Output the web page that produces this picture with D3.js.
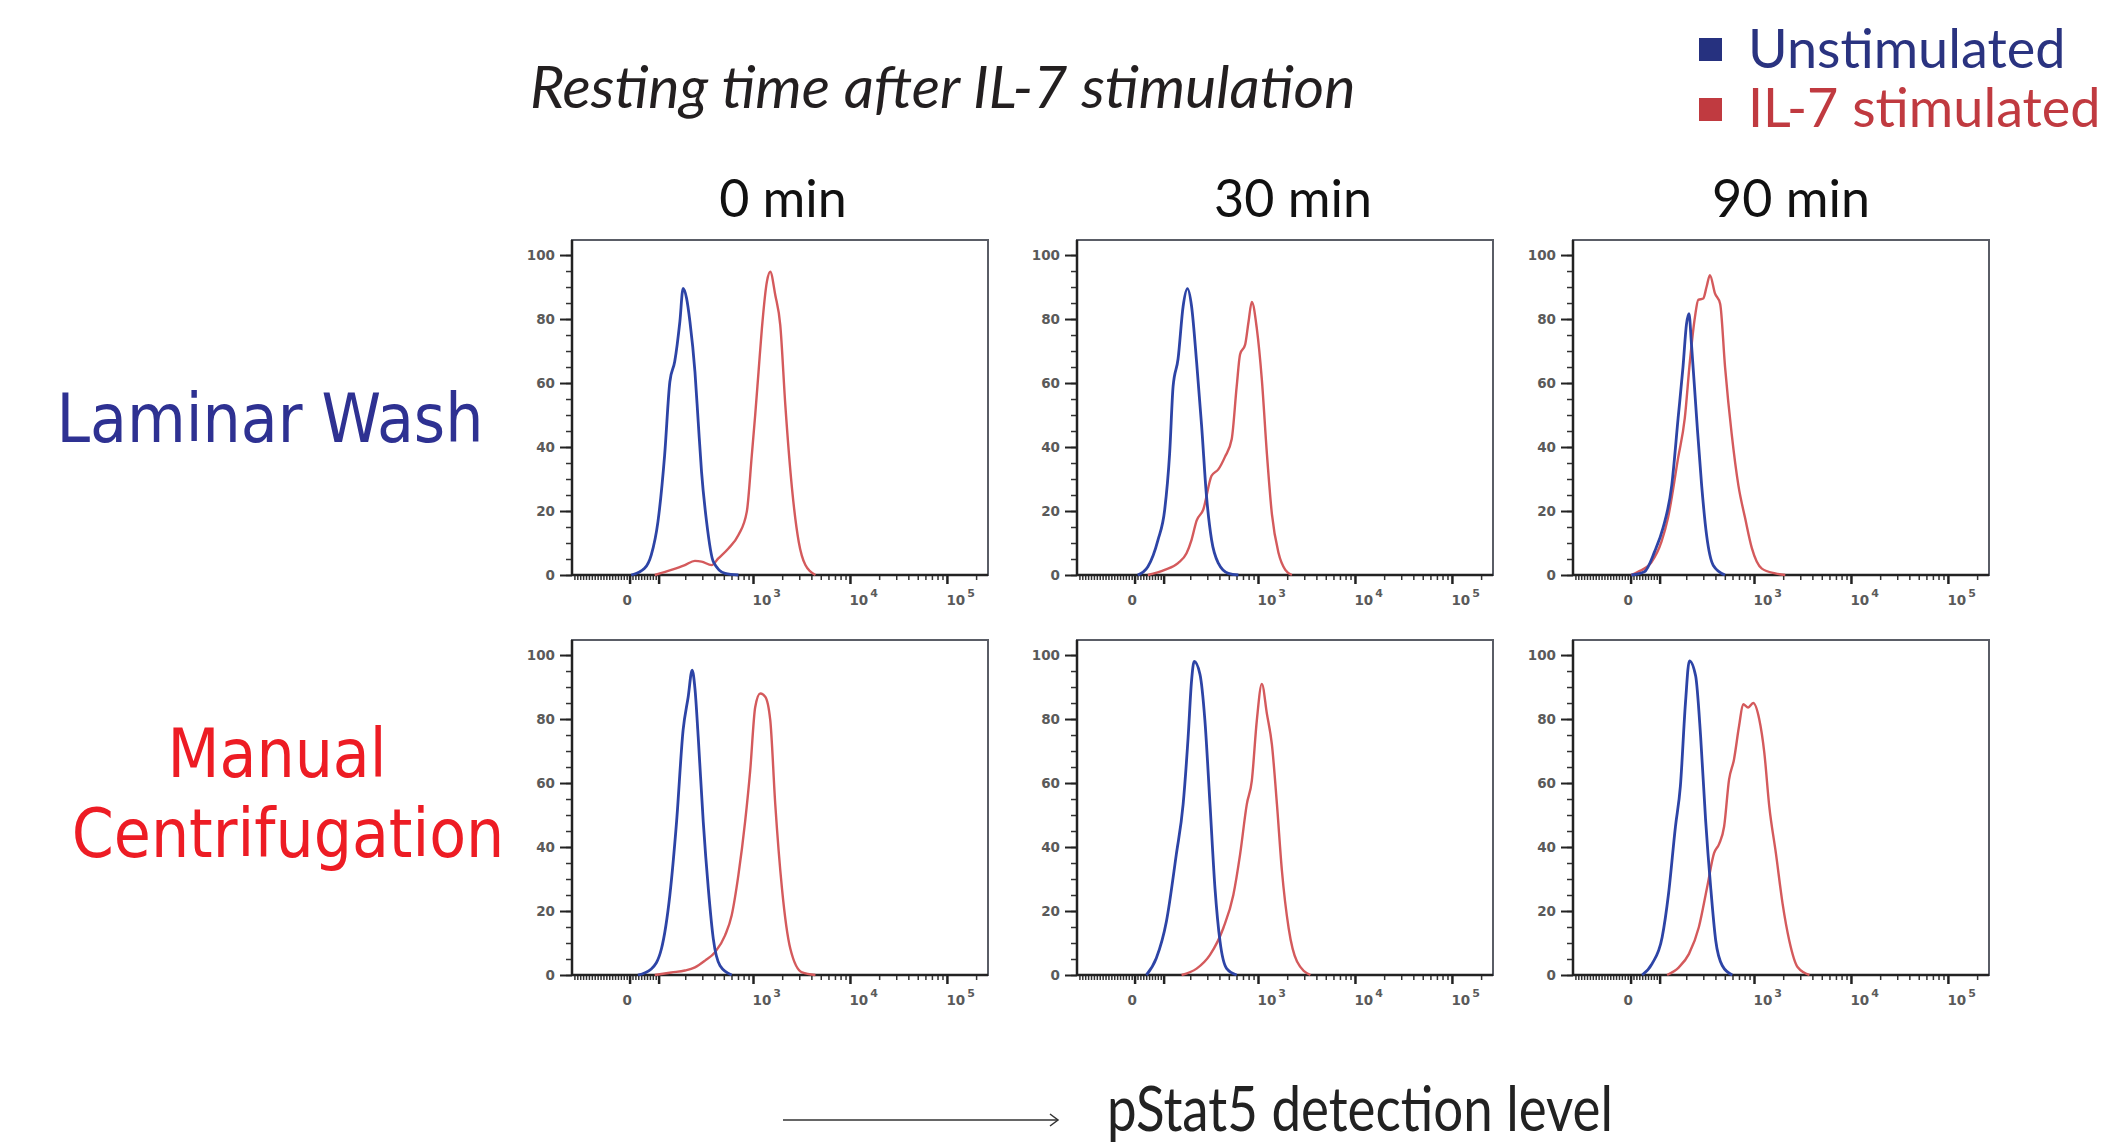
<!DOCTYPE html>
<html>
<head>
<meta charset="utf-8">
<script src="https://cdn.jsdelivr.net/npm/d3@7"></script>
<style>
body { margin: 0; background: #fff; }
</style>
</head>
<body>
<svg id="chart"></svg>
<script>
//Labels
var methods = ["Laminar Wash", "Manual Centrifugation"]
var times = ["0 min", "30 min", "90 min"]
var seriesNames = ["Unstimulated", "IL-7 stimulated"]
var chartTitle = "Resting time after IL-7 stimulation"
var axisTitle = "pStat5 detection level"
var yTicks = [0, 20, 40, 60, 80, 100]
var xMajor = [0, 100, 1000, 10000, 100000]
var xLabels = [{v: 0, base: "0", exp: ""}, {v: 1000, base: "10", exp: "3"}, {v: 10000, base: "10", exp: "4"}, {v: 100000, base: "10", exp: "5"}]

//Histograms: [pStat5 intensity, % of max]
var lw0U = [[4,0],[50,2.1],[73,6.3],[96,16.7],[119,37.5],[137,60.4],[154,66.7],[174,79.2],[188,89.6],[204,86.5],[221,79.2],[249,63.5],[269,47.9],[291,32.3],[328,16.7],[385,4.2],[509,0.5],[699,0]]
var lw0S = [[85,0],[142,1.6],[196,3.1],[249,4.4],[291,4.2],[370,3.1],[434,5.2],[551,8.3],[699,12.5],[853,19.8],[961,37.5],[1041,50],[1127,63.5],[1220,77],[1375,91.7],[1488,94.8],[1677,87.5],[1889,78],[2130,53],[2496,27],[2926,10.4],[3430,3.1],[4355,0]]
var lw30U = [[9,0],[44,2.6],[79,11],[102,20.4],[119,38],[131,59],[148,67.5],[167,84],[185,89.5],[204,84],[230,66.5],[259,46.6],[291,24.6],[328,11],[385,3.7],[489,0.5],[620,0]]
var lw30S = [[44,0],[102,1.6],[148,3.7],[181,6.8],[204,11],[230,17],[269,20.4],[328,31],[385,33],[452,37],[529,42.4],[596,59],[646,69],[728,72],[788,79],[853,85.3],[961,77],[1083,61],[1220,38],[1375,19],[1612,6.8],[1890,1.6],[2209,0]]
var lw90U = [[1,0],[46,1],[81,7.3],[110,14.7],[140,28],[163,49],[183,65],[199,78.5],[211,81.7],[224,72],[253,49],[285,28],[320,12.6],[376,3],[497,0]]
var lw90S = [[0,0],[24,1],[70,4],[105,10.5],[127,17.8],[163,36.6],[191,49],[216,67],[243,80.6],[263,86],[296,86.4],[320,90],[347,93.7],[391,88],[442,84.8],[497,65],[582,44],[682,28],[800,17.8],[939,8.4],[1191,2],[1637,0.5],[2077,0]]
var mc0U = [[27,0],[73,1.9],[108,8.2],[137,25],[161,48],[188,76.6],[212,86.9],[233,95.3],[249,89.5],[269,74.4],[303,48],[342,27],[385,11.3],[452,2.9],[596,0]]
var mc0S = [[85,0],[142,0.8],[196,1.4],[249,2.4],[316,4.5],[401,7.1],[509,12.4],[596,18.7],[699,31.3],[820,48],[924,63.8],[1041,83.7],[1172,88],[1321,87],[1488,79.7],[1677,53.3],[1967,27],[2399,8.2],[3168,0.8],[4355,0]]
var mc30U = [[39,0],[73,5.2],[108,16.8],[142,37.7],[167,53.4],[188,74.3],[204,92],[217,98],[249,94],[280,79.6],[316,53.4],[356,27],[401,10.5],[470,2],[596,0]]
var mc30S = [[161,0],[230,2],[316,6.3],[434,14.7],[550,25],[646,37.7],[758,53.4],[853,60.7],[961,79.6],[1083,91],[1220,81.7],[1375,72],[1549,53.4],[1745,32.5],[2045,14.7],[2496,4.2],[3430,0]]
var mc90U = [[38,0],[72,3.5],[107,11.8],[129,25.4],[153,46.4],[172,59],[194,85],[213,98.2],[247,93.5],[278,74.7],[313,48.5],[353,27.5],[398,10.8],[466,2.9],[591,0]]
var mc90S = [[124,0],[166,2.4],[211,6.6],[267,15],[325,27.5],[382,38],[432,41],[486,46.4],[546,61],[614,67.3],[693,77.8],[764,84.6],[860,83.6],[969,85],[1118,80],[1262,69.5],[1420,52.7],[1663,38],[1948,22.3],[2282,10.8],[2793,2.4],[3685,0]]

var unstim = [[lw0U, lw30U, lw90U], [mc0U, mc30U, mc90U]]
var stim = [[lw0S, lw30S, lw90S], [mc0S, mc30S, mc90S]]

//Size and svg
var width = 2117
var height = 1146
var svg = d3.select("#chart")
	.attr("width", width)
	.attr("height", height)

var blue = "#2d44a6"
var red = "#d45a5c"
var PW = 416, PH = 335
var colX = [572, 1077, 1573]
var rowY = [240, 640]
var headX = [783, 1293, 1791]

//logicle-like axis: linear near zero, log above
var L = 145
function logicle(v) {
	return v >= L ? Math.log10(v) : Math.log10(L) + (v - L) / (L * Math.LN10)
}
var x = d3.scaleLinear().domain([logicle(-200), logicle(262144)]).range([0, PW])
var px = function(v) { return x(logicle(v)) }
var y = d3.scaleLinear().domain([0, 104.7]).range([PH, 0])

var line = d3.line()
	.x(d => px(d[0]))
	.y(d => y(d[1]))
	.curve(d3.curveMonotoneX)

//minor ticks on the x axis
var xMinor = d3.range(-190, 100, 10).filter(v => v != 0)
;[100, 1000, 10000].forEach(function(dec) {
	for (var k = 2; k <= 9; k++) xMinor.push(k * dec)
})
xMinor.push(200000)

//Title and headers
svg.append("text")
	.attr("x", 530).attr("y", 108)
	.style("font-family", "Lato").style("font-style", "italic")
	.style("font-size", "59px").attr("fill", "#231f20")
	.text(chartTitle)

svg.selectAll(".colhead")
	.data(times)
	.enter()
	.append("text")
	.attr("x", (d, i) => headX[i])
	.attr("y", 217)
	.attr("text-anchor", "middle")
	.style("font-family", "Lato").style("font-size", "52px")
	.attr("fill", "#111")
	.text(d => d)

//Legend
var legend = svg.append("g")
legend.selectAll("rect")
	.data(seriesNames)
	.enter()
	.append("rect")
	.attr("x", 1699).attr("y", (d, i) => 38 + i * 60)
	.attr("width", 23).attr("height", 23)
	.attr("fill", (d, i) => i == 0 ? "#26317f" : "#c03a40")
legend.selectAll("text")
	.data(seriesNames)
	.enter()
	.append("text")
	.attr("x", 1748).attr("y", (d, i) => 68 + i * 59)
	.style("font-family", "Lato").style("font-size", "54px")
	.attr("fill", (d, i) => i == 0 ? "#2a3380" : "#c03a40")
	.text(d => d)

//Row labels
var rowFont = function(s) {
	s.attr("text-anchor", "middle")
		.style("font-family", "DejaVu Sans Condensed").style("font-size", "67px")
}
svg.append("text")
	.attr("x", 270).attr("y", 442)
	.call(rowFont)
	.attr("fill", "#2e3192")
	.text(methods[0])
var mc = methods[1].split(" ")
svg.append("text")
	.attr("x", 277).attr("y", 777)
	.call(rowFont)
	.attr("fill", "#ed1c24")
	.text(mc[0])
svg.append("text")
	.attr("x", 288).attr("y", 857)
	.call(rowFont)
	.attr("fill", "#ed1c24")
	.text(mc[1])

//Panels
methods.forEach(function(m, r) {
	times.forEach(function(t, c) {
		var g = svg.append("g")
			.attr("transform", "translate(" + colX[c] + "," + rowY[r] + ")")

		g.append("rect")
			.attr("width", PW).attr("height", PH)
			.attr("fill", "none").attr("stroke", "#5a5d66").attr("stroke-width", 2)

		//y axis
		g.append("g")
			.call(d3.axisLeft(y).tickValues(d3.range(0, 101, 5)).tickSize(6).tickFormat(""))
			.call(s => s.select(".domain").remove())
			.selectAll("line").attr("stroke", "#333").attr("stroke-width", 1.5)
		var ya = g.append("g")
			.call(d3.axisLeft(y).tickValues(yTicks).tickSize(12).tickPadding(5))
			.call(s => s.select(".domain").remove())
		ya.selectAll("line").attr("stroke", "#222").attr("stroke-width", 2)
		ya.selectAll("text")
			.style("font-family", "DejaVu Sans").style("font-weight", "bold")
			.style("font-size", "13.5px").attr("fill", "#5a5a5a")

		//x axis ticks
		g.selectAll(".xminor")
			.data(xMinor)
			.enter()
			.append("line")
			.attr("x1", d => px(d)).attr("x2", d => px(d))
			.attr("y1", PH).attr("y2", PH + 5)
			.attr("stroke", "#333").attr("stroke-width", 1.5)
		g.selectAll(".xmajor")
			.data(xMajor)
			.enter()
			.append("line")
			.attr("x1", d => px(d)).attr("x2", d => px(d))
			.attr("y1", PH).attr("y2", PH + 9)
			.attr("stroke", "#222").attr("stroke-width", 2.5)

		var lab = g.selectAll(".xlab")
			.data(xLabels)
			.enter()
			.append("text")
			.attr("x", d => d.exp ? px(d.v) - 1 : px(d.v) - 3)
			.attr("y", PH + 30)
			.attr("text-anchor", d => d.exp ? "start" : "middle")
			.style("font-family", "DejaVu Sans").style("font-weight", "bold")
			.style("font-size", "13.5px").attr("fill", "#5a5a5a")
		lab.append("tspan").text(d => d.base)
		lab.append("tspan")
			.attr("dy", -8).attr("dx", 2)
			.style("font-size", "11px")
			.text(d => d.exp)

		//axis lines
		g.append("line")
			.attr("x1", 0).attr("x2", 0).attr("y1", 0).attr("y2", PH)
			.attr("stroke", "#222").attr("stroke-width", 2.5)
		g.append("line")
			.attr("x1", 0).attr("x2", PW).attr("y1", PH).attr("y2", PH)
			.attr("stroke", "#222").attr("stroke-width", 2.5)

		//curves
		g.append("path")
			.datum(stim[r][c])
			.attr("d", line)
			.attr("fill", "none").attr("stroke", red).attr("stroke-width", 2.4)
		g.append("path")
			.datum(unstim[r][c])
			.attr("d", line)
			.attr("fill", "none").attr("stroke", blue).attr("stroke-width", 2.8)
	})
})

//Bottom arrow and axis name
svg.append("line")
	.attr("x1", 783).attr("x2", 1058).attr("y1", 1120).attr("y2", 1120)
	.attr("stroke", "#333").attr("stroke-width", 1.5)
svg.append("path")
	.attr("d", "M1050,1114 L1058,1120 L1050,1126")
	.attr("fill", "none").attr("stroke", "#333").attr("stroke-width", 1.5)
svg.append("text")
	.attr("x", 1107).attr("y", 1131)
	.style("font-family", "Lato").style("font-size", "62px")
	.attr("textLength", 506).attr("lengthAdjust", "spacingAndGlyphs")
	.attr("fill", "#222")
	.text(axisTitle)
</script>
</body>
</html>
